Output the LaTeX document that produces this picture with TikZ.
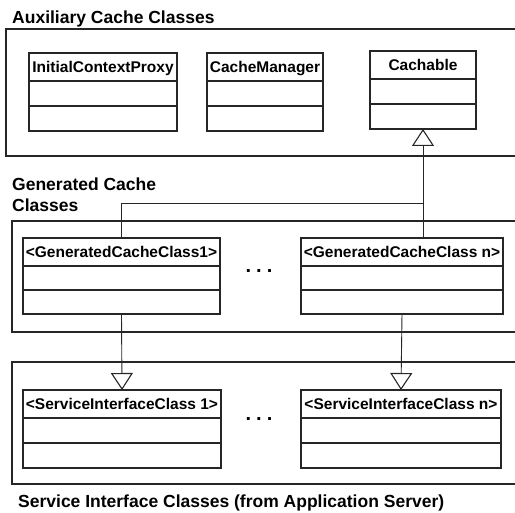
\documentclass[tikz,border=0pt]{standalone}
\usepackage{fontspec}
\setmainfont{Liberation Sans}
\usetikzlibrary{positioning,arrows.meta}

\tikzset{
  pkg/.style={line width=1.1pt, draw=black!85},
  pkgtitle/.style={inner sep=0pt, font=\fontsize{17.5}{21}\selectfont\bfseries, align=left},
  clshead/.style={draw=black!85, line width=1.1pt, inner sep=0pt, outer sep=0pt, anchor=north west,
    minimum height=28, text height=11, text depth=0, font=\fontsize{15.5}{18}\selectfont\bfseries},
  clsbody/.style={draw=black!85, line width=1.1pt, inner sep=0pt, outer sep=0pt, minimum height=#1},
  clsbody/.default=25,
  inherit/.style={line width=0.9pt, draw=black!85,
    -{Triangle[open, length=17pt, width=22pt, line width=1.1pt]}},
  gap/.style={anchor=base, inner sep=0pt, font=\fontsize{20}{20}\selectfont\bfseries}
}

% class box: [compartment height]{name}{width}{north west}{title}
\newcommand{\umlclass}[5][25]{%
  \node[clshead, minimum width=#3] (#2) at (#4) {#5};
  \node[clsbody=#1, minimum width=#3, below=0pt of #2] (#2-attr) {};
  \node[clsbody=#1, minimum width=#3, below=0pt of #2-attr] (#2-ops) {};
}

\begin{document}
\begin{tikzpicture}[x=1pt, y=-1pt]
\useasboundingbox (0,0) rectangle (515,513);

% packages (open to the right)
\draw[pkg] (515,29) -| (6,156) -- (515,156);
\draw[pkg] (515,221) -| (12,332) -- (515,332);
\draw[pkg] (515,362) -| (12,484) -- (515,484);
\node[pkgtitle, anchor=base west] (auxtitle) at (12,24) {Auxiliary Cache Classes};
\node[pkgtitle, anchor=north west] (gentitle) at (12,178) {Generated Cache\\Classes};
\node[pkgtitle, anchor=base west] (svctitle) at (18,508) {Service Interface Classes (from Application Server)};

% classes
\umlclass{icp}{148}{29,53}{InitialContextProxy}
\umlclass{cm}{116}{207,53}{CacheManager}
\umlclass{cach}{106}{370,51}{Cachable}
\umlclass[24]{gen1}{197}{23,238}{<GeneratedCacheClass1>}
\umlclass[24]{genn}{202}{301,238}{<GeneratedCacheClass n>}
\umlclass{svc1}{198}{23,390}{<ServiceInterfaceClass 1>}
\umlclass{svcn}{200}{301,390}{<ServiceInterfaceClass n>}

\node[gap] (gendots) at (259,273) {.\hspace{5pt}.\hspace{5pt}.};
\node[gap] (svcdots) at (259,421) {.\hspace{5pt}.\hspace{5pt}.};

% generalisations
\coordinate (split) at (cach-ops.south |- 0,203);
\draw[inherit] (gen1.north) |- (split) -- (cach-ops.south);
\draw[line width=0.9pt, draw=black!85] (genn.north -| split) -- (split);
\draw[inherit] (gen1-ops.south) -- (svc1.north);
\draw[inherit] (genn-ops.south) -- (svcn.north);
\end{tikzpicture}
\end{document}
